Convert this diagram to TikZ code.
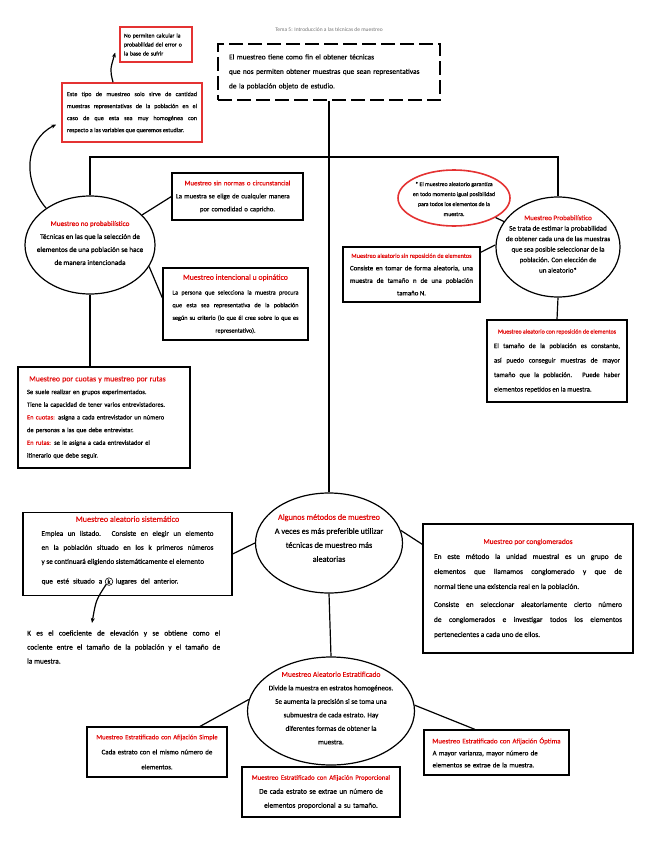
\documentclass[tikz,border=0pt]{standalone}
\usepackage{fontspec}
\setmainfont{Carlito}[FakeBold=0.4]
\newfontfamily\fina{Carlito}
\usetikzlibrary{shapes.geometric,arrows.meta,positioning}
\definecolor{rojo}{RGB}{225,10,10}
\definecolor{marco}{RGB}{228,50,50}
\newcommand{\encab}[2]{\makebox[\hsize]{\fontsize{#1}{#1}\selectfont\textcolor{rojo}{#2}}}
\newcommand{\centrado}[1]{\makebox[\hsize]{#1}}
\newcommand{\espacio}[1]{\spaceskip=#1 plus 1pt\relax}
\tikzset{
  caja/.style={draw, line width=1.2pt, align=left, inner sep=4pt,
    font=\fontsize{6.3}{12.5}\selectfont},
  cajaroja/.style={caja, draw=marco, line width=1.6pt},
  ovalo/.style={draw, ellipse, line width=1.2pt, inner sep=0pt},
  ovalrojo/.style={ovalo, draw=marco, line width=1.6pt},
  texto/.style={align=center, font=\fontsize{6.3}{13}\selectfont},
  linea/.style={line width=1.2pt},
  flecha/.style={line width=1.2pt, -{Stealth[length=5pt,width=4pt]}},
}
\begin{document}
\begin{tikzpicture}[x=1pt,y=-1pt]
    \useasboundingbox (0,0) rectangle (656,848);

    % Título
    \node[font=\fina\fontsize{5.5}{7}\selectfont, text=black!55] (tema) at (329,30)
        {Tema 5: Introducción a las técnicas de muestreo};

    % Recuadro de introducción (discontinuo)
    \node[caja, line width=1.6pt, dash pattern=on 14pt off 5pt, text width=200pt, inner xsep=11pt,
          minimum height=56pt, font=\fontsize{7.4}{14.5}\selectfont\espacio{2.3pt}] (intro) at (329,72)
        {El muestreo tiene como fin el obtener técnicas\\
         que nos permiten obtener muestras que sean representativas\\
         de la población objeto de estudio.};

    % Notas en rojo arriba a la izquierda
    \node[cajaroja, text width=64pt, minimum height=35pt, font=\fontsize{5.8}{9}\selectfont] (nota) at (156,44.5)
        {No permiten calcular la\\ probabilidad del error o\\ la base de sufrir};
    \node[cajaroja, align=justify, text width=130pt, inner xsep=5pt, minimum height=59pt,
          font=\fontsize{6.1}{12}\selectfont] (tipo) at (132,112.5)
        {Este tipo de muestreo solo sirve de cantidad\linebreak
         muestras representativas de la población en el\linebreak
         caso de que esta sea muy homogénea con\linebreak
         respecto a las variables que queremos estudiar.};

    % Muestreo no probabilístico
    \node[ovalo, minimum width=130pt, minimum height=98pt] (noprob) at (90,245) {};
    \node[texto, font=\fontsize{7.2}{13}\selectfont] (noprobtxt) at (90,243)
        {\textcolor{rojo}{Muestreo no probabilístico}\\
         Técnicas en las que la selección de\\
         elementos de una población se hace\\
         de manera intencionada};

    \node[caja, text width=123pt, minimum height=47pt, font=\fontsize{6.7}{13}\selectfont] (sinnormas) at (237.5,196.5)
        {\encab{6.8}{Muestreo sin normas o circunstancial}\\
         La muestra se elige de cualquier manera\\
         \centrado{por comodidad o capricho.}};
    \node[caja, align=justify, text width=126pt, inner xsep=9.5pt, minimum height=72pt,
          font=\fontsize{6.2}{12.7}\selectfont] (intencional) at (235.5,304)
        {\encab{7.8}{Muestreo intencional u opinático}\\[2pt]
         La persona que selecciona la muestra procura\linebreak
         que esta sea representativa de la población\linebreak
         según su criterio (lo que él cree sobre lo que es\linebreak
         \centrado{representativo).}};
    \node[caja, text width=154pt, inner xsep=9pt, minimum height=101pt,
          font=\fontsize{6.5}{12.7}\selectfont] (cuotas) at (104,417.5)
        {{\fontsize{7.8}{12.7}\selectfont\textcolor{rojo}{\ Muestreo por cuotas y muestreo por rutas}}\\
         Se suele realizar en grupos experimentados.\\
         Tiene la capacidad de tener varios entrevistadores.\\
         \textcolor{rojo}{En cuotas:} asigna a cada entrevistador un número\\
         de personas a las que debe entrevistar.\\
         \textcolor{rojo}{En rutas:} se le asigna a cada entrevistador el\\
         itinerario que debe seguir.};

    % Muestreo probabilístico
    \node[ovalrojo, minimum width=112pt, minimum height=56pt] (aleat) at (454,198) {};
    \node[texto, font=\fontsize{5.8}{10}\selectfont] (aleattxt) at (454,199)
        {* El muestreo aleatorio garantiza\\
         en todo momento igual posibilidad\\
         para todos los elementos de la\\
         muestra.};
    \node[ovalo, minimum width=124pt, minimum height=100pt] (prob) at (558,247) {};
    \node[texto, font=\fontsize{7}{10.5}\selectfont] (probtxt) at (558,244)
        {\textcolor{rojo}{Muestreo Probabilístico}\\
         Se trata de estimar la probabilidad\\
         de obtener cada una de las muestras\\
         que sea posible seleccionar de la\\
         población. Con elección de\\
         un aleatorio*};
    \node[caja, align=justify, text width=123pt, inner xsep=7pt, minimum height=55pt,
          font=\fontsize{6.8}{12.5}\selectfont] (sinrep) at (411.5,274.5)
        {\encab{6.2}{Muestreo aleatorio sin reposición de elementos}\\
         Consiste en tomar de forma aleatoria, una\linebreak
         muestra de tamaño n de una población\linebreak
         \centrado{tamaño N.}};
    \node[caja, align=justify, text width=126pt, inner xsep=7pt, minimum height=82pt,
          font=\fontsize{6.8}{14.5}\selectfont] (conrep) at (557,361)
        {\encab{6}{Muestreo aleatorio con reposición de elementos}\\
         El tamaño de la población es constante,\linebreak
         así puedo conseguir muestras de mayor\linebreak
         tamaño que la población. Puede haber\linebreak
         elementos repetidos en la muestra.};

    % Algunos métodos de muestreo
    \node[ovalo, minimum width=147pt, minimum height=100pt] (metodos) at (329,543) {};
    \node[texto, font=\fontsize{8.2}{14}\selectfont] (metodostxt) at (329,538)
        {\textcolor{rojo}{Algunos métodos de muestreo}\\
         A veces es más preferible utilizar\\
         técnicas de muestreo más\\
         aleatorias};
    \node[caja, align=justify, text width=172pt, inner xsep=18.5pt, minimum height=82pt,
          font=\fontsize{7.2}{14}\selectfont] (sistematico) at (127.5,554)
        {\encab{8.2}{Muestreo aleatorio sistemático}\\
         Emplea un listado. Consiste en elegir un elemento\linebreak
         en la población situado en los k primeros números\linebreak
         y se continuará eligiendo sistemáticamente el elemento\\
         \mbox{}\\ \mbox{}};
    \node[anchor=base west, inner sep=0pt, font=\fontsize{7.2}{14}\selectfont\espacio{4pt}] (situado) at (41.5,583.5)
        {que esté situado a};
    \node[draw, circle, inner sep=0.8pt, line width=0.6pt, font=\fontsize{6.5}{7}\selectfont,
          right=2.5pt of situado] (kcirc) {k};
    \node[anchor=base west, inner sep=0pt, font=\fontsize{7.2}{14}\selectfont\espacio{4pt}] (lugares)
        at ([xshift=2.5pt]kcirc.east |- situado.base) {lugares del anterior.};
    \coordinate (pk) at (92,623);
    \node[anchor=west, align=justify, text width=193pt, inner sep=0pt,
          font=\fontsize{7.4}{14}\selectfont] (notak) at (27,647)
        {K es el coeficiente de elevación y se obtiene como el\linebreak
         cociente entre el tamaño de la población y el tamaño de\linebreak
         la muestra.};
    \node[caja, align=justify, text width=188pt, inner xsep=11pt, minimum height=129pt,
          font=\fontsize{7.4}{15}\selectfont] (conglo) at (528,588.5)
        {\encab{7.4}{Muestreo por conglomerados}\\
         En este método la unidad muestral es un grupo de\linebreak
         elementos que llamamos conglomerado y que de\linebreak
         normal tiene una existencia real en la población.\\[3pt]
         Consiste en seleccionar aleatoriamente cierto número\linebreak
         de conglomerados e investigar todos los elementos\linebreak
         pertenecientes a cada uno de ellos.};

    % Muestreo aleatorio estratificado
    \node[ovalo, minimum width=167pt, minimum height=108pt] (estrat) at (331,711) {};
    \node[texto, font=\fontsize{7.1}{13.5}\selectfont] (estrattxt) at (331,708)
        {{\fontsize{7.5}{13.5}\selectfont\textcolor{rojo}{Muestreo Aleatorio Estratificado}}\\
         Divide la muestra en estratos homogéneos.\\
         Se aumenta la precisión si se toma una\\
         submuestra de cada estrato. Hay\\
         diferentes formas de obtener la\\
         muestra.};
    \node[caja, align=center, text width=132pt, minimum height=50pt, font=\fontsize{6.9}{15}\selectfont] (simple) at (157,752)
        {{\fontsize{6.7}{15}\selectfont\textcolor{rojo}{Muestreo Estratificado con Afijación Simple}}\\
         Cada estrato con el mismo número de\\
         elementos.};
    \node[caja, align=center, text width=150pt, minimum height=50pt, font=\fontsize{7.3}{14}\selectfont] (proporcional) at (321,792)
        {{\fontsize{6.7}{14}\selectfont\textcolor{rojo}{Muestreo Estratificado con Afijación Proporcional}}\\
         De cada estrato se extrae un número de\\
         elementos proporcional a su tamaño.};
    \node[caja, text width=137pt, minimum height=45pt, font=\fontsize{6.9}{12}\selectfont] (optima) at (496.5,752.5)
        {\encab{7}{Muestreo Estratificado con Afijación Óptima}\\
         \ \ A mayor varianza, mayor número de\\
         \ \ elementos se extrae de la muestra.};

    % Conectores
    \coordinate (cruce) at (329,157);
    \draw[linea] (intro.south) -- (metodos.north);
    \draw[linea] (noprob.north) |- (cruce) -| (prob.north);
    \draw[linea] (noprob.30) -- (sinnormas.west);
    \draw[linea] (noprob.-20) -- ([yshift=6pt]intencional.west);
    \draw[linea] (noprob.south) -- (noprob.south |- cuotas.north);
    \draw[linea] (aleat) -- (prob);
    \draw[linea] ([yshift=-6pt]sinrep.north east) -- (prob.178);
    \draw[linea] (prob.south) -- (conrep.north);
    \draw[linea] (sistematico.east) -- (metodos.west);
    \draw[linea] (metodos.10) -- ([yshift=-21pt]conglo.north west);
    \draw[linea] (metodos.south) -- (estrat.north);
    \draw[linea] ([xshift=43pt]simple.north) -- (estrat.172);
    \draw[linea] ([xshift=-21.5pt]optima.north) -- (estrat.4);
    \draw[linea] (estrat.south) -- (estrat.south |- proporcional.north);

    % Flechas curvas
    \draw[flecha] (noprob.140) .. controls (22,180) and (25,140) .. ([xshift=-5pt,yshift=-12pt]tipo.west);
    \draw[flecha] ([xshift=-19pt]tipo.north) .. controls (110,70) .. ([xshift=-4pt,yshift=-8pt]nota.west);
    \draw[flecha] (kcirc.south west) .. controls (96,600) .. (pk);

\end{tikzpicture}
\end{document}
